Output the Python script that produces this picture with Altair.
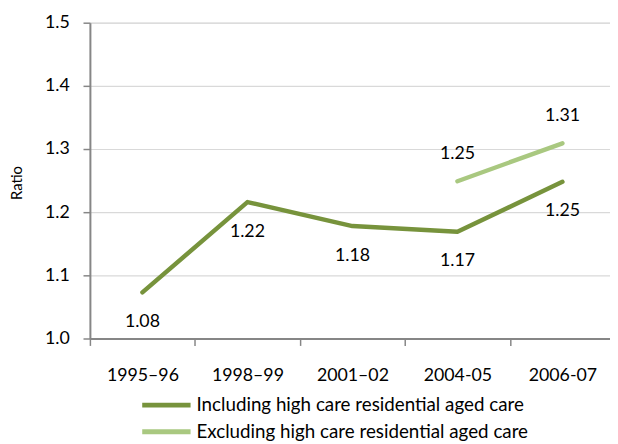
import altair as alt
import pandas as pd

years = ["1995–96", "1998–99", "2001–02", "2004-05", "2006-07"]
series_names = ["Including high care residential aged care",
                "Excluding high care residential aged care"]
incl_values = [1.073, 1.216, 1.178, 1.169, 1.248]
incl_labels = ["1.08", "1.22", "1.18", "1.17", "1.25"]
excl_years = ["2004-05", "2006-07"]
excl_values = [1.249, 1.309]
excl_labels = ["1.25", "1.31"]

rows = []
for y, v, l in zip(years, incl_values, incl_labels):
    rows.append({"year": y, "value": v, "label": l, "series": series_names[0]})
for y, v, l in zip(excl_years, excl_values, excl_labels):
    rows.append({"year": y, "value": v, "label": l, "series": series_names[1]})
df = pd.DataFrame(rows)

FONT = "Lato"
colors = ["#77933C", "#A9C880"]

x = alt.X("year:N", sort=years, title=None,
          scale=alt.Scale(domain=years, range=[0, 532], paddingInner=0, paddingOuter=0),
          axis=alt.Axis(labelAngle=0, tickBand="extent", labelFontSize=18, labelFont=FONT,
                        labelColor="#000000", domainColor="#868686", domainWidth=2,
                        tickColor="#868686", tickWidth=1.5, tickSize=7, labelPadding=22,
                        grid=False))
y = alt.Y("value:Q", title="Ratio",
          scale=alt.Scale(domain=[1.0, 1.5], nice=False, zero=False),
          axis=alt.Axis(values=[1.0, 1.1, 1.2, 1.3, 1.4, 1.5], format=".1f",
                        labelFontSize=18, labelFont=FONT, labelColor="#000000",
                        domainColor="#868686", domainWidth=2, tickColor="#868686",
                        tickWidth=1.5, tickSize=7, labelPadding=14,
                        gridColor="#D9D9D9", gridWidth=1.2,
                        titleFont=FONT, titleFontSize=15, titleFontWeight="normal",
                        titleColor="#000000", titleAngle=-90, titleX=-74, titleY=162,
                        titleAlign="center", titleBaseline="middle"))

color = alt.Color("series:N", sort=series_names,
                  scale=alt.Scale(domain=series_names, range=colors),
                  legend=alt.Legend(title=None, orient="none", legendX=68, legendY=378,
                                    direction="vertical", symbolType="M-4,0H4",
                                    symbolSize=150, symbolStrokeWidth=5,
                                    labelFont=FONT, labelFontSize=19, labelColor="#000000",
                                    rowPadding=6, labelOffset=21, labelLimit=500,
                                    padding=0))

lines = alt.Chart(df).mark_line(strokeWidth=4.5, strokeCap="round", strokeJoin="round").encode(
    x=x, y=y, color=color, detail="series:N")

below = alt.Chart(df).transform_filter(
    alt.datum.series == series_names[0]
).mark_text(font=FONT, fontSize=18, color="#000000", dy=30, baseline="middle").encode(
    x=alt.X("year:N", sort=years), y="value:Q", text="label:N")

above = alt.Chart(df).transform_filter(
    alt.datum.series == series_names[1]
).mark_text(font=FONT, fontSize=18, color="#000000", dy=-28, baseline="middle").encode(
    x=alt.X("year:N", sort=years), y="value:Q", text="label:N")

chart = alt.layer(lines, below, above).properties(
    width=527, height=320,
    autosize=alt.AutoSizeParams(type="none"),
    padding={"left": 83, "top": 12, "right": 0, "bottom": 104},
).configure_view(stroke=None).configure(background="white")

chart.save("out.html", embed_options={"renderer": "svg", "actions": False})
